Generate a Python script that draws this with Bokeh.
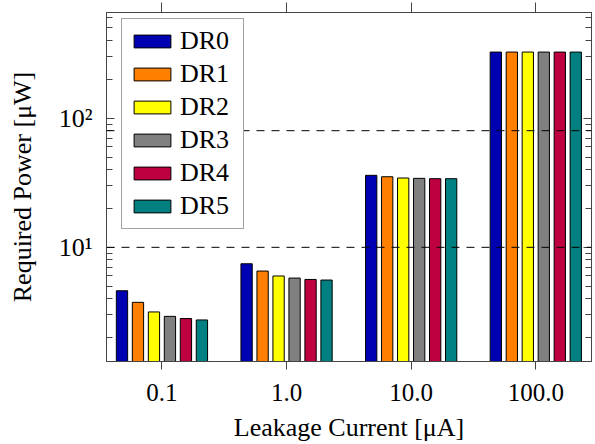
from bokeh.plotting import figure
from bokeh.models import FixedTicker, LogAxis, LinearAxis, Span, Range1d
from bokeh.embed import file_html
from bokeh.resources import INLINE

# ---- data ----
categories = ["0.1", "1.0", "10.0", "100.0"]          # leakage current [uA]
series = ["DR0", "DR1", "DR2", "DR3", "DR4", "DR5"]
dr0 = [4.61, 7.46, 36.1, 325]
dr1 = [3.75, 6.55, 35.2, 325]
dr2 = [3.16, 6.00, 34.4, 325]
dr3 = [2.92, 5.78, 34.2, 325]
dr4 = [2.81, 5.64, 34.0, 325]
dr5 = [2.74, 5.58, 34.0, 325]
thresholds = [10, 80]
y_ticks = [10, 100]
y_tick_labels = ["10¹", "10²"]
colors = ["#0000B3", "#FF8000", "#FFFF00", "#808080", "#BF0040", "#008080"]

values = [dr0, dr1, dr2, dr3, dr4, dr5]

FONT = "Liberation Serif"
AX = "#444444"

p = figure(width=595, height=444, output_backend="svg", toolbar_location=None,
           y_axis_type="log",
           x_range=Range1d(-0.445, 3.447), y_range=Range1d(1.306, 658),
           min_border_left=106, min_border_right=4, min_border_top=12,
           min_border_bottom=82)
p.background_fill_color = "white"
p.border_fill_color = "white"
p.outline_line_color = AX
p.outline_line_width = 1
p.xgrid.visible = False
p.ygrid.visible = False

# dashed reference lines (added before legend so legend sits on top)
for t in thresholds:
    p.add_layout(Span(location=t, dimension="width", line_color="black",
                      line_dash="8 7", line_width=1))

step = 0.1283
bar_w = 0.0906
n = len(series)
for i, (name, vals, col) in enumerate(zip(series, values, colors)):
    xs = [g + (i - (n - 1) / 2) * step for g in range(len(categories))]
    p.vbar(x=xs, top=vals, bottom=0.01, width=bar_w, fill_color=col,
           line_color="black", line_width=1, legend_label=name)

# x axis (bottom)
xt = FixedTicker(ticks=list(range(len(categories))))
xa = p.xaxis[0]
xa.ticker = xt
xa.major_label_overrides = {i: c for i, c in enumerate(categories)}
xa.major_tick_out = 8
xa.major_tick_in = 0
xa.minor_tick_line_color = None
xa.major_tick_line_color = AX
xa.axis_line_color = AX
xa.major_label_standoff = 14
xa.major_label_text_font = FONT
xa.major_label_text_font_size = "25px"
xa.major_label_text_color = "black"
xa.axis_label = "Leakage Current [μA]"
xa.axis_label_text_font = FONT
xa.axis_label_text_font_size = "26px"
xa.axis_label_text_font_style = "normal"
xa.axis_label_text_color = "black"
xa.axis_label_standoff = 9

# top mirror axis (ticks only)
top = LinearAxis(ticker=xt, major_tick_out=10, major_tick_in=0,
                 minor_tick_line_color=None, major_tick_line_color=AX,
                 axis_line_color=AX, major_label_text_font_size="1px",
                 major_label_text_color=None, major_label_standoff=0)
p.add_layout(top, "above")

# y axis (left)
minor = [m * 10 ** e for e in range(0, 3) for m in range(2, 10)]
yt = FixedTicker(ticks=y_ticks, minor_ticks=minor)
ya = p.yaxis[0]
ya.ticker = yt
ya.major_label_overrides = {t: l for t, l in zip(y_ticks, y_tick_labels)}
ya.major_tick_in = 8
ya.major_tick_out = 0
ya.minor_tick_in = 6
ya.minor_tick_out = 0
ya.major_tick_line_color = AX
ya.minor_tick_line_color = AX
ya.axis_line_color = AX
ya.major_label_standoff = 14
ya.major_label_text_font = FONT
ya.major_label_text_font_size = "26px"
ya.major_label_text_color = "black"
ya.axis_label = "Required Power [μW]"
ya.axis_label_text_font = FONT
ya.axis_label_text_font_size = "26px"
ya.axis_label_text_font_style = "normal"
ya.axis_label_text_color = "black"
ya.axis_label_standoff = 19

# right mirror axis (ticks only)
right = LogAxis(ticker=yt, major_tick_in=8, major_tick_out=0,
                minor_tick_in=6, minor_tick_out=0,
                major_tick_line_color=AX, minor_tick_line_color=AX,
                axis_line_color=AX, major_label_text_font_size="1px",
                major_label_text_color=None, major_label_standoff=0)
p.add_layout(right, "right")

# legend
leg = p.legend[0]
leg.location = (15, 132)
leg.margin = 0
leg.padding = 7
leg.spacing = 3
leg.glyph_width = 46
leg.glyph_height = 16
leg.label_standoff = 5
leg.label_width = 56
leg.label_text_font = FONT
leg.label_text_font_size = "26px"
leg.label_text_color = "black"
leg.border_line_color = AX
leg.border_line_width = 1
leg.background_fill_color = "white"
leg.background_fill_alpha = 1

open("out.html", "w").write(file_html(p, INLINE))
